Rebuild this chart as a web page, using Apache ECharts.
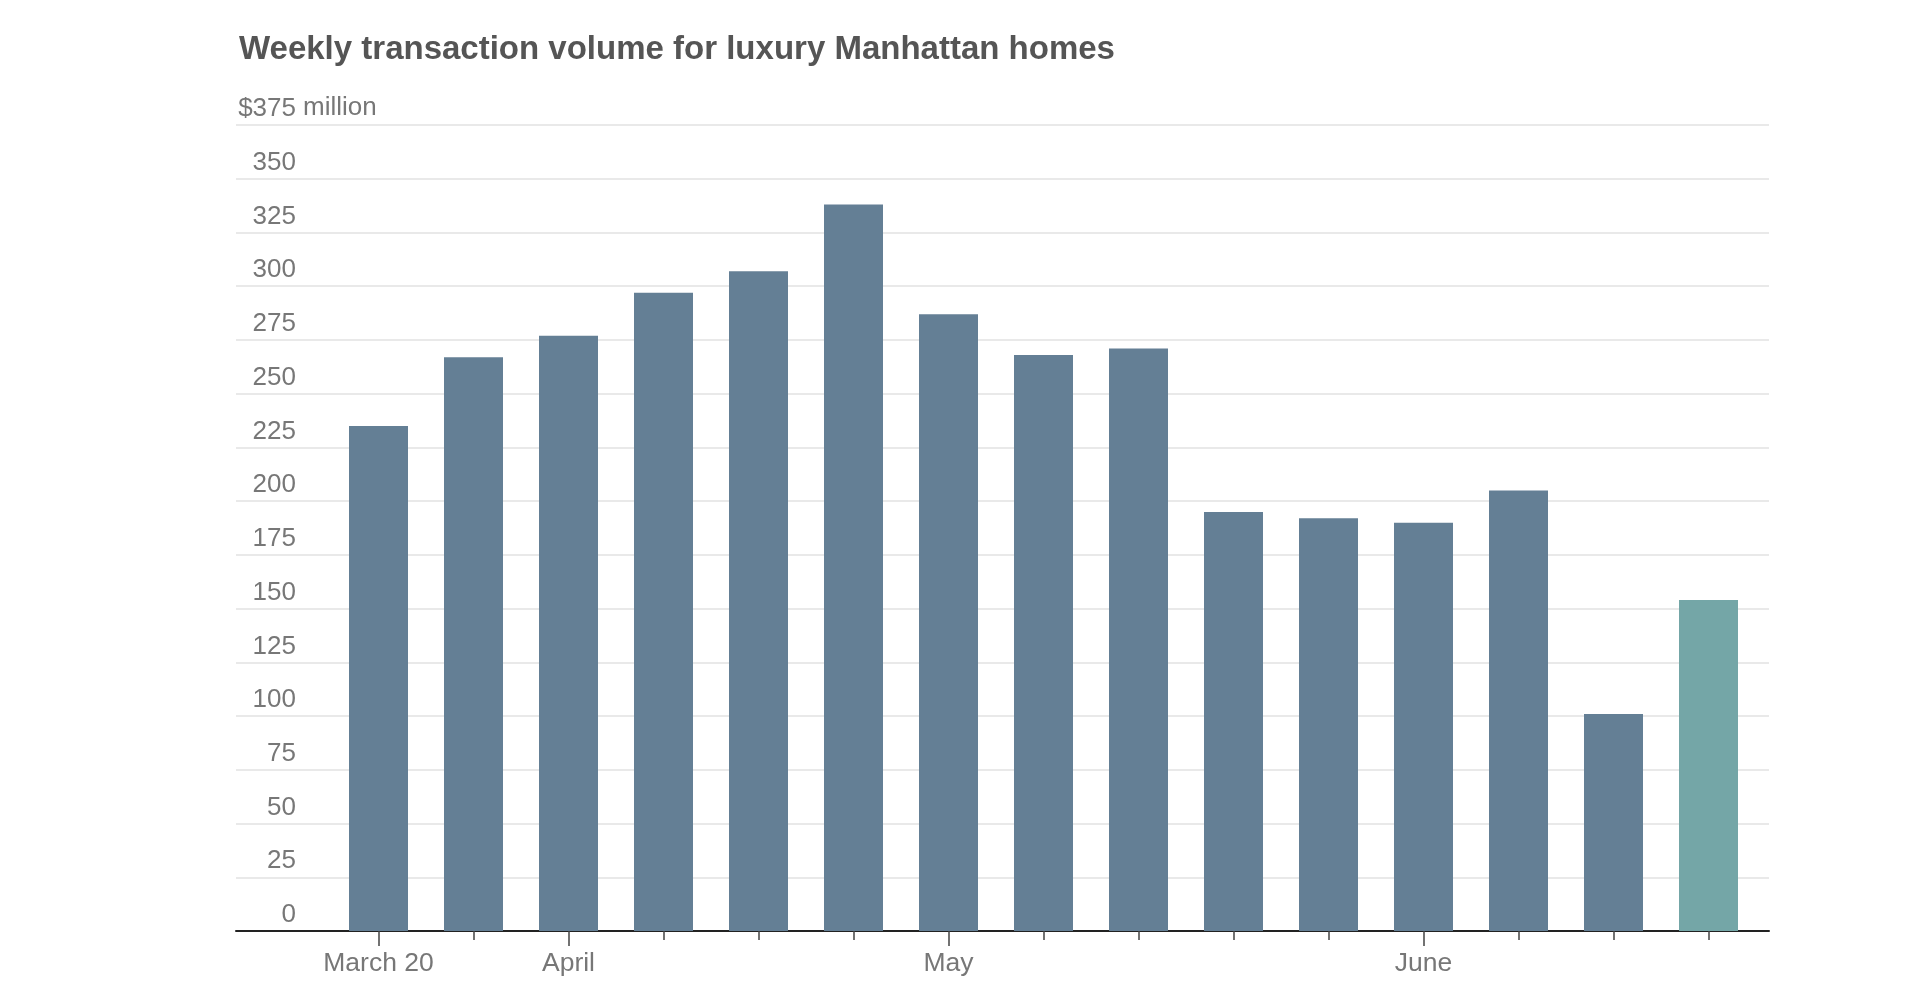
<!DOCTYPE html>
<html>
<head>
<meta charset="utf-8">
<script src="https://cdn.jsdelivr.net/npm/echarts@6/dist/echarts.min.js"></script>
<style>
html,body{margin:0;padding:0;background:#fff;}
#chart{width:1920px;height:989px;}
</style>
</head>
<body>
<div id="chart"></div>
<script>
// Data
const weeks = ["Mar 20","Mar 27","Apr 3","Apr 10","Apr 17","Apr 24","May 1","May 8","May 15","May 22","May 29","Jun 5","Jun 12","Jun 19","Jun 26"];
const weekLabels = ["March 20","","April","","","","May","","","","","June","","",""];
const volumes = [235, 267, 277, 297, 307, 338, 287, 268, 271, 195, 192, 190, 205, 101, 154];
const yTicks = [0, 25, 50, 75, 100, 125, 150, 175, 200, 225, 250, 275, 300, 325, 350, 375];
const latestIndex = 14;

const yMin = yTicks[0], yMax = yTicks[yTicks.length - 1], yStep = yTicks[1] - yTicks[0];
const barColor = '#647f95';
const latestColor = '#74a6a7';
const font = '"Liberation Sans", Arial, Helvetica, sans-serif';

const chart = echarts.init(document.getElementById('chart'));
const option = {
  backgroundColor: '#fff',
  animation: false,
  title: {
    text: 'Weekly transaction volume for luxury Manhattan homes',
    left: 234, top: 28,
    textStyle: {fontFamily: font, fontSize: 33, fontWeight: 'bold', color: '#555'}
  },
  graphic: [{
    type: 'text', left: 303, top: 95,
    style: {text: 'million', font: '26px ' + font, fill: '#777'}
  }],
  grid: [
    {left: 236, right: 151, top: 125, bottom: 58},
    {left: 331, right: 164, top: 125, bottom: 58}
  ],
  xAxis: [
    {gridIndex: 0, type: 'value', min: 0, max: 1, position: 'bottom',
     axisLine: {show: true, onZero: false, lineStyle: {color: '#222', width: 2}},
     axisTick: {show: false}, axisLabel: {show: false}, splitLine: {show: false}},
    {gridIndex: 1, type: 'category', data: weeks, boundaryGap: true, position: 'bottom',
     axisLine: {show: false, onZero: false},
     axisTick: {show: true, alignWithLabel: true, interval: 0, length: 9, lineStyle: {color: '#444', width: 1.5}},
     axisLabel: {show: false}},
    {gridIndex: 1, type: 'category', data: weeks, boundaryGap: true, position: 'bottom', offset: 0,
     axisLine: {show: false, onZero: false},
     axisTick: {show: true, alignWithLabel: true, length: 15,
       interval: (i) => weekLabels[i] !== '', lineStyle: {color: '#444', width: 1.5}},
     axisLabel: {show: true, interval: (i) => weekLabels[i] !== '', margin: 19,
       formatter: (v, i) => weekLabels[i], fontFamily: font, fontSize: 26.5, color: '#777'}}
  ],
  yAxis: [
    {gridIndex: 0, type: 'value', min: yMin, max: yMax, interval: yStep,
     axisLine: {show: false}, axisTick: {show: false},
     splitLine: {show: true, lineStyle: {color: '#e2e2e2', width: 1.5}},
     axisLabel: {inside: true, align: 'right', margin: 60, verticalAlign: 'bottom',
       padding: [0, 0, 3, 0],
       formatter: (v) => v === yMax ? '$' + v : String(v),
       fontFamily: font, fontSize: 26, color: '#777'}},
    {gridIndex: 1, type: 'value', min: yMin, max: yMax, interval: yStep, show: false}
  ],
  series: [{
    type: 'bar', xAxisIndex: 1, yAxisIndex: 1, barWidth: 59,
    itemStyle: {color: barColor},
    data: volumes.map((v, i) => i === latestIndex ? {value: v, itemStyle: {color: latestColor}} : v)
  }]
};
chart.setOption(option);
</script>
</body>
</html>
